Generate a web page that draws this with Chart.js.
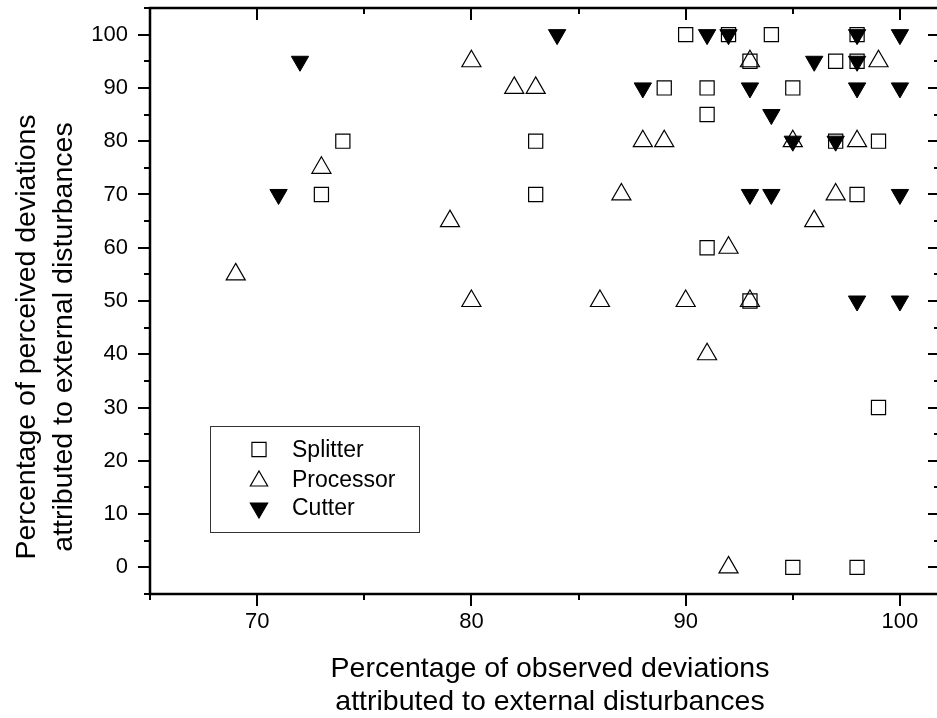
<!DOCTYPE html>
<html>
<head>
<meta charset="utf-8">
<script src="https://cdn.jsdelivr.net/npm/chart.js@4.4.1/dist/chart.umd.min.js"></script>
<style>
  html, body { margin: 0; padding: 0; background: #fff; overflow: hidden; }
  #wrap { width: 941px; height: 718px; }
</style>
</head>
<body>
<div id="wrap"><canvas id="myChart" width="941" height="718"></canvas></div>
<script>
// valeurs
const splitterX = [73, 74, 83, 83, 89, 90, 91, 91, 91, 92, 93, 93, 94, 95, 95, 97, 97, 98, 98, 98, 98, 99, 99];
const splitterY = [70, 80, 80, 70, 90, 100, 90, 85, 60, 100, 95, 50, 100, 90, 0, 95, 80, 100, 95, 70, 0, 80, 30];

const processorX = [69, 73, 79, 80, 80, 82, 83, 86, 87, 88, 89, 90, 91, 92, 92, 93, 93, 95, 96, 97, 98, 99];
const processorY = [55, 75, 65, 95, 50, 90, 90, 50, 70, 80, 80, 50, 40, 60, 0, 95, 50, 80, 65, 70, 80, 95];

const cutterX = [71, 72, 84, 88, 91, 92, 93, 93, 94, 94, 95, 96, 97, 98, 98, 98, 98, 100, 100, 100, 100];
const cutterY = [70, 95, 100, 90, 100, 100, 90, 70, 85, 70, 80, 95, 80, 100, 95, 90, 50, 100, 90, 70, 50];

const xTickLabels = [70, 80, 90, 100];
const yTickLabels = [0, 10, 20, 30, 40, 50, 60, 70, 80, 90, 100];

const xTitle = ['Percentage of observed deviations', 'attributed to external disturbances'];
const yTitle = ['Percentage of perceived deviations', 'attributed to external disturbances'];

const FONT = '"Liberation Sans", Arial, sans-serif';

function toPoints(xs, ys) {
  return xs.map((x, i) => ({ x: x, y: ys[i] }));
}

// petit symbole pour la légende
function marker(ctx, style, x, y, r, filled) {
  ctx.beginPath();
  if (style === 'rect') {
    const s = r * Math.SQRT1_2;
    ctx.rect(x - s, y - s, 2 * s, 2 * s);
  } else {
    const d = style === 'down' ? -1 : 1;
    ctx.moveTo(x, y - d * r);
    ctx.lineTo(x + 0.866 * r, y + d * 0.5 * r);
    ctx.lineTo(x - 0.866 * r, y + d * 0.5 * r);
    ctx.closePath();
  }
  if (filled) {
    ctx.fillStyle = '#000';
    ctx.fill();
  }
  ctx.stroke();
}

const frame = {
  id: 'frame',
  afterDraw(chart) {
    const { ctx, chartArea: a, scales: { x, y } } = chart;
    ctx.save();
    ctx.strokeStyle = '#000';
    ctx.lineWidth = 2.5;
    ctx.strokeRect(a.left, a.top, a.right - a.left, a.bottom - a.top);

    // graduations
    ctx.lineWidth = 2;
    ctx.beginPath();
    x.ticks.forEach(t => {
      const px = Math.round(x.getPixelForValue(t.value));
      const len = t.value % 10 === 0 ? 12 : 6;
      ctx.moveTo(px, a.bottom);
      ctx.lineTo(px, a.bottom + len);
      ctx.moveTo(px, a.top);
      ctx.lineTo(px, a.top + len);
    });
    y.ticks.forEach(t => {
      const py = Math.round(y.getPixelForValue(t.value));
      const len = t.value % 10 === 0 ? 12 : 6;
      ctx.moveTo(a.left, py);
      ctx.lineTo(a.left - len, py);
      ctx.moveTo(a.right, py);
      ctx.lineTo(a.right - len, py);
    });
    ctx.stroke();

    // titres des axes
    ctx.fillStyle = '#000';
    ctx.font = '28.5px ' + FONT;
    ctx.textAlign = 'center';
    ctx.textBaseline = 'alphabetic';
    ctx.fillText(xTitle[0], 550, 677);
    ctx.fillText(xTitle[1], 550, 710);
    ctx.save();
    ctx.translate(35, 337);
    ctx.rotate(-Math.PI / 2);
    ctx.fillText(yTitle[0], 0, 0);
    ctx.restore();
    ctx.save();
    ctx.translate(72, 337);
    ctx.rotate(-Math.PI / 2);
    ctx.fillText(yTitle[1], 0, 0);
    ctx.restore();

    // légende
    ctx.lineWidth = 1;
    ctx.strokeStyle = '#333';
    ctx.strokeRect(210.5, 426.5, 209, 106);
    ctx.strokeStyle = '#000';
    ctx.lineWidth = 1.2;
    marker(ctx, 'rect', 259, 449.5, 10, false);
    marker(ctx, 'up', 259, 481, 10, false);
    marker(ctx, 'down', 259, 508, 10, true);
    ctx.font = '23px ' + FONT;
    ctx.textAlign = 'left';
    const labels = chart.data.datasets.map(d => d.label);
    ctx.fillText(labels[0], 292, 457);
    ctx.fillText(labels[1], 292, 487);
    ctx.fillText(labels[2], 292, 515);
    ctx.restore();
  }
};

const ctx = document.getElementById('myChart');

new Chart(ctx, {
  type: 'scatter',
  data: {
    datasets: [{
      label: 'Splitter',
      data: toPoints(splitterX, splitterY),
      pointStyle: 'rect',
      pointRadius: 10,
      pointHoverRadius: 10,
      pointBorderColor: '#000',
      pointBackgroundColor: 'rgba(0,0,0,0)',
      pointBorderWidth: 1.2,
      order: 3
    }, {
      label: 'Processor',
      data: toPoints(processorX, processorY),
      pointStyle: 'triangle',
      pointRadius: 11,
      pointHoverRadius: 11,
      pointBorderColor: '#000',
      pointBackgroundColor: 'rgba(0,0,0,0)',
      pointBorderWidth: 1.2,
      order: 2
    }, {
      label: 'Cutter',
      data: toPoints(cutterX, cutterY),
      pointStyle: 'triangle',
      pointRotation: 180,
      pointRadius: 10,
      pointHoverRadius: 10,
      pointBorderColor: '#000',
      pointBackgroundColor: '#000',
      pointBorderWidth: 1,
      order: 1
    }]
  },
  options: {
    responsive: false,
    animation: false,
    layout: { autoPadding: false, padding: { top: 8, right: 1, left: 0, bottom: 0 } },
    plugins: {
      legend: { display: false },
      tooltip: { enabled: false }
    },
    scales: {
      x: {
        type: 'linear',
        position: 'bottom',
        min: 65,
        max: 101.87,
        afterFit: s => { s.height = 124; s.paddingLeft = 0; s.paddingRight = 0; },
        grid: { display: false, drawTicks: false },
        border: { display: false },
        ticks: {
          stepSize: 5,
          includeBounds: false,
          autoSkip: false,
          maxRotation: 0,
          padding: 15,
          color: '#000',
          font: { family: FONT, size: 22 },
          callback: v => xTickLabels.includes(v) ? String(v) : ''
        }
      },
      y: {
        type: 'linear',
        min: -5,
        max: 105,
        afterFit: s => { s.width = 150; s.paddingTop = 0; s.paddingBottom = 0; },
        grid: { display: false, drawTicks: false },
        border: { display: false },
        ticks: {
          stepSize: 5,
          includeBounds: false,
          autoSkip: false,
          padding: 22,
          color: '#000',
          font: { family: FONT, size: 22 },
          callback: v => yTickLabels.includes(v) ? String(v) : ''
        }
      }
    }
  },
  plugins: [frame]
});
</script>
</body>
</html>
